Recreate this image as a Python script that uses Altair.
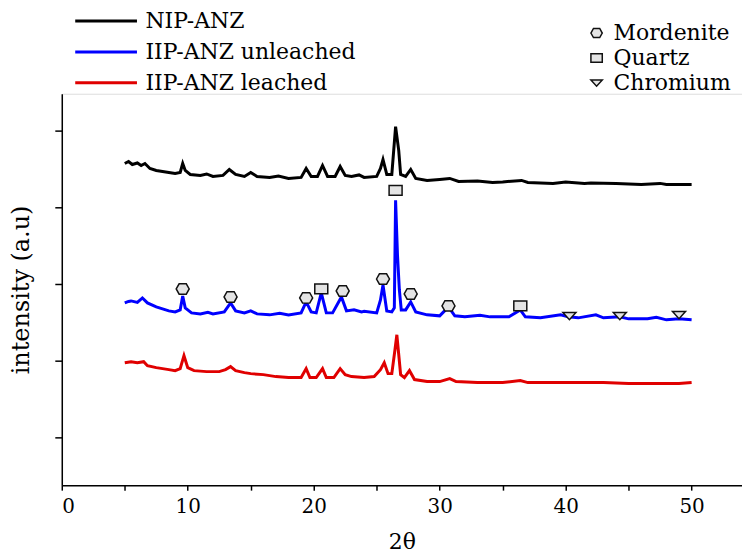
import altair as alt
import pandas as pd

series_names = ["NIP-ANZ", "IIP-ANZ unleached", "IIP-ANZ leached"]
series_colors = ["#000000", "#0000ff", "#e00000"]

# NIP-ANZ
x_nip = [5.0, 5.3, 5.6, 6.0, 6.3, 6.6, 7.0, 7.5, 8.0, 8.5, 9.0, 9.4, 9.6, 9.8, 10.2, 11.0, 11.5, 12.0, 12.8,
         13.3, 13.8, 14.5, 15.0, 15.5, 16.5, 17.2, 18.0, 19.0, 19.4, 19.8, 20.3, 20.7, 21.1, 21.7,
         22.1, 22.5, 23.0, 23.6, 24.0, 25.0, 25.3, 25.5, 25.8, 26.2, 26.5, 26.75, 26.9, 27.3, 27.7,
         28.1, 29.0, 30.0, 30.8, 31.5, 33.0, 34.2, 35.0, 36.5, 37.0, 39.0, 40.0, 41.5, 42.0, 44.0, 46.0,
         47.5, 48.0, 50.0]
y_nip = [3230, 3250, 3220, 3235, 3210, 3230, 3180, 3160, 3150, 3140, 3130, 3140, 3230, 3160, 3120, 3110, 3125, 3100, 3110,
         3170, 3120, 3100, 3140, 3100, 3090, 3105, 3080, 3090, 3180, 3100, 3100, 3210, 3100, 3100,
         3200, 3110, 3100, 3115, 3090, 3100, 3180, 3270, 3120, 3120, 3600, 3360, 3120, 3100, 3170,
         3080, 3060, 3070, 3080, 3050, 3055, 3040, 3045, 3060, 3040, 3030, 3045, 3030, 3035, 3030, 3020,
         3030, 3020, 3020]

# IIP-ANZ unleached
x_unl = [5.0, 5.3, 5.5, 6.0, 6.4, 6.8, 7.5, 8.0, 8.5, 9.0, 9.4, 9.6, 9.8, 10.3, 11.0, 11.6, 12.0, 12.9,
         13.4, 13.8, 14.5, 15.0, 15.5, 16.5, 17.3, 18.0, 19.0, 19.4, 19.8, 20.2, 20.6, 21.0, 21.5,
         22.2, 22.6, 23.2, 23.8, 24.0, 25.0, 25.3, 25.5, 25.8, 26.2, 26.4, 26.5, 26.65, 26.8, 26.95,
         27.3, 27.7, 28.1, 29.0, 30.0, 30.7, 31.2, 32.0, 33.2, 34.0, 35.5, 36.4, 36.8, 38.0, 39.6,
         40.2, 41.0, 42.4, 43.0, 44.3, 45.0, 46.5, 47.2, 48.0, 49.0, 50.0]
y_unl = [1830, 1845, 1850, 1835, 1880, 1830, 1790, 1770, 1750, 1740, 1760, 1900, 1780, 1730, 1720, 1735, 1720, 1740,
         1830, 1750, 1730, 1750, 1720, 1710, 1725, 1710, 1730, 1840, 1740, 1730, 1930, 1730, 1730,
         1890, 1750, 1760, 1740, 1745, 1730, 1860, 2010, 1750, 1740, 1780, 2860, 2310, 1960, 1760,
         1760, 1840, 1740, 1710, 1700, 1790, 1700, 1690, 1705, 1690, 1690, 1760, 1690, 1680, 1710,
         1690, 1680, 1710, 1680, 1690, 1670, 1670, 1685, 1660, 1670, 1660]

# IIP-ANZ leached
x_lea = [5.0, 5.5, 6.0, 6.5, 6.8, 7.5, 8.0, 8.5, 9.0, 9.4, 9.7, 10.0, 10.5, 11.5, 12.5, 13.0,
         13.4, 13.8, 14.5, 15.0, 16.0, 17.0, 18.0, 19.0, 19.4, 19.7, 20.2, 20.7, 21.0, 21.6,
         22.1, 22.5, 23.0, 24.0, 24.8, 25.3, 25.6, 25.9, 26.2, 26.45, 26.6, 26.75, 26.9, 27.2,
         27.6, 28.0, 29.0, 30.0, 30.8, 31.3, 33.0, 35.0, 36.4, 37.0, 39.0, 41.0, 43.0, 45.0,
         47.0, 49.0, 50.0]
y_lea = [1230, 1240, 1230, 1240, 1200, 1180, 1170, 1160, 1150, 1170, 1300, 1180, 1150, 1140, 1140, 1160,
         1190, 1150, 1130, 1120, 1110, 1090, 1080, 1080, 1170, 1080, 1080, 1170, 1080, 1080,
         1170, 1110, 1090, 1080, 1090, 1160, 1230, 1120, 1120, 1360, 1510, 1310, 1110, 1080,
         1150, 1060, 1040, 1040, 1070, 1040, 1030, 1030, 1050, 1030, 1030, 1030, 1030, 1020,
         1020, 1020, 1030]

# phase markers on the unleached pattern
phase_names = ["Mordenite", "Quartz", "Chromium"]
mk_phase = ["Mordenite", "Mordenite", "Mordenite", "Quartz", "Mordenite", "Mordenite", "Quartz",
            "Mordenite", "Mordenite", "Quartz", "Chromium", "Chromium", "Chromium"]
mk_x = [9.6, 13.4, 19.4, 20.6, 22.3, 25.5, 26.5, 27.7, 30.7, 36.4, 40.3, 44.3, 49.0]
mk_y = [1970, 1890, 1880, 1970, 1950, 2070, 2960, 1920, 1800, 1800, 1700, 1700, 1710]

rows = []
for name, xs, ys in [(series_names[0], x_nip, y_nip),
                     (series_names[1], x_unl, y_unl),
                     (series_names[2], x_lea, y_lea)]:
    for a, b in zip(xs, ys):
        rows.append({"series": name, "two_theta": a, "intensity": b})
lines_df = pd.DataFrame(rows)
marks_df = pd.DataFrame({"phase": mk_phase, "two_theta": mk_x, "intensity": mk_y})

FONT = "DejaVu Serif"
hex_path = "M-1,0L-0.55,-0.8L0.55,-0.8L1,0L0.55,0.8L-0.55,0.8Z"
rect_path = "M-1,-0.75L1,-0.75L1,0.75L-1,0.75Z"
tri_path = "M-1,-0.5L1,-0.5L0,0.6Z"

x_enc = alt.X("two_theta:Q",
              scale=alt.Scale(domain=[0, 54], nice=False, zero=False),
              axis=alt.Axis(title="2θ", values=list(range(0, 55, 5)),
                            labelExpr="datum.value % 10 == 0 ? datum.label : ''",
                            grid=False, domainColor="black", domainWidth=1.5,
                            tickColor="black", tickWidth=1.5, tickSize=5,
                            labelFont=FONT, labelFontSize=20, labelColor="black",
                            labelPadding=6, titleFont=FONT, titleFontSize=22,
                            titleFontWeight="normal", titleColor="black", titlePadding=16))
y_enc = alt.Y("intensity:Q",
              scale=alt.Scale(domain=[0, 3930], nice=False, zero=False),
              axis=alt.Axis(title="intensity (a.u)", values=[480, 1250, 2020, 2790, 3560],
                            labels=False, grid=False, domainColor="black", domainWidth=1.5,
                            tickColor="black", tickWidth=1.5, tickSize=7,
                            titleFont=FONT, titleFontSize=24, titleFontWeight="normal",
                            titleColor="black", titlePadding=21))

lines = alt.Chart(lines_df).mark_line(strokeWidth=3).encode(
    x=x_enc, y=y_enc,
    color=alt.Color("series:N",
                    scale=alt.Scale(domain=series_names, range=series_colors),
                    legend=alt.Legend(title=None, orient="none", legendX=12, legendY=-86,
                                      symbolType="stroke", symbolSize=3844,
                                      symbolStrokeWidth=3, labelFont=FONT,
                                      labelFontSize=22, labelColor="black",
                                      labelOffset=7, rowPadding=5, clipHeight=26,
                                      labelLimit=400)),
)

phase_legend = alt.Legend(title=None, orient="none", legendX=526, legendY=-72,
                          symbolStrokeWidth=1.5, symbolSize=130,
                          labelFont=FONT, labelFontSize=22, labelColor="black",
                          labelOffset=6, rowPadding=3, labelLimit=300)

points = alt.Chart(marks_df).mark_point(filled=True, strokeWidth=1.5, opacity=1, size=170).encode(
    x="two_theta:Q", y="intensity:Q",
    shape=alt.Shape("phase:N",
                    scale=alt.Scale(domain=phase_names, range=[hex_path, rect_path, tri_path]),
                    legend=phase_legend),
    fill=alt.Fill("phase:N",
                  scale=alt.Scale(domain=phase_names, range=["#e4e4e4", "#e4e4e4", "#e4e4e4"]),
                  legend=phase_legend),
    stroke=alt.Stroke("phase:N",
                      scale=alt.Scale(domain=phase_names, range=["#111111", "#111111", "#111111"]),
                      legend=phase_legend),
)

chart = alt.layer(lines, points).properties(
    width=683, height=393,
    autosize=alt.AutoSizeParams(type="none"),
    padding={"left": 54, "top": 85, "right": 0, "bottom": 68},
).configure_view(stroke=None).configure(background="white", font=FONT)

chart.save("out.html", embed_options={"renderer": "svg", "actions": False})
